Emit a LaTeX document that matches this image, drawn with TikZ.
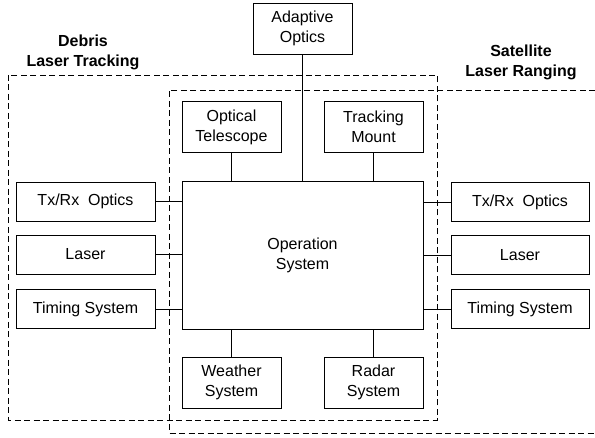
\documentclass[tikz,border=0pt]{standalone}
\usepackage{fontspec}
\setmainfont{Liberation Sans}
\usepackage{tikz}
\usetikzlibrary{positioning, calc}

\begin{document}
\begin{tikzpicture}[x=1pt, y=-1pt, line width=0.9pt,
	block/.style={rectangle, draw, fill=white, align=center, text centered, minimum width=99pt, minimum height=51pt, font=\fontsize{16}{20}\selectfont, inner sep=2pt},
	side block/.style={block, minimum width=139pt, minimum height=39pt},
	group label/.style={align=center, font=\bfseries\fontsize{16}{20}\selectfont},
	group box/.style={dashed, dash pattern=on 6pt off 3.5pt, line width=0.9pt}]
		
		\useasboundingbox (0,0) rectangle (595,438);
		
		% Dashed groups
		\draw[group box] (8,75) rectangle (437,420);
		\draw[group box] (595,90) -- (169,90) -- (169,433) -- (595,433);
		\node[group label] (debris) at (83,52) {Debris\\Laser Tracking};
		\node[group label] (slr) at (521,62) {Satellite\\Laser Ranging};
		
		% Nodes
		\node[block, minimum width=241pt, minimum height=148pt] (ops) at (302.5,255) {Operation\\System};
		\node[block] (ao) at (302.5,28.5) {Adaptive\\Optics};
		\node[block] (tel) at (231.5,127) {Optical\\Telescope};
		\node[block] (mount) at (373.5,127) {Tracking\\Mount};
		\node[block] (weather) at (231.5,382.5) {Weather\\System};
		\node[block] (radar) at (373.5,382.5) {Radar\\System};
		
		\node[side block] (txL) at (85.5,201.5) {Tx/Rx\ \ Optics};
		\node[side block] (laserL) at (85.5,254.5) {Laser};
		\node[side block] (timeL) at (85.5,309) {Timing System};
		\node[side block, minimum width=138pt] (txR) at (520,202) {Tx/Rx\ \ Optics};
		\node[side block, minimum width=138pt] (laserR) at (520,255) {Laser};
		\node[side block, minimum width=138pt] (timeR) at (520,309) {Timing System};
		
		% Edges (connections)
		\draw (ao.south) -- (ops.north);
		\draw (tel.south) -- (tel.south |- ops.north);
		\draw (mount.south) -- (mount.south |- ops.north);
		\draw (weather.north) -- (weather.north |- ops.south);
		\draw (radar.north) -- (radar.north |- ops.south);
		\draw (txL.east) -- (txL.east -| ops.west);
		\draw (laserL.east) -- (laserL.east -| ops.west);
		\draw (timeL.east) -- (timeL.east -| ops.west);
		\draw (txR.west) -- (txR.west -| ops.east);
		\draw (laserR.west) -- (laserR.west -| ops.east);
		\draw (timeR.west) -- (timeR.west -| ops.east);
	\end{tikzpicture}
\end{document}
